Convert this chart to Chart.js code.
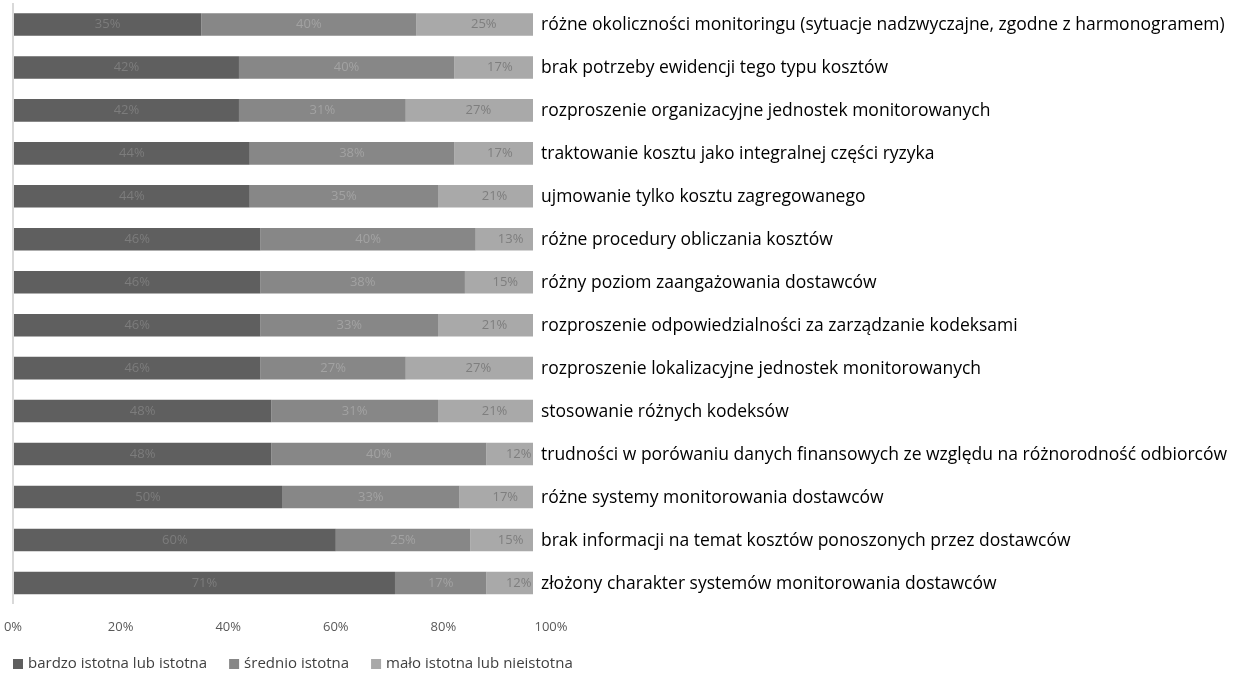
<!DOCTYPE html>
<html lang="pl">
<head>
<meta charset="utf-8">
<title>Bariery monitorowania kosztów</title>
<script src="https://cdn.jsdelivr.net/npm/chart.js@4.4.0/dist/chart.umd.min.js"></script>
<style>
    html, body { margin: 0; padding: 0; background: #fff; }
    #wrap { position: relative; width: 1238px; height: 673px; }
</style>
</head>
<body>
<div id="wrap"><canvas id="barrierChart"></canvas></div>
<script>
// kategorie (od góry do dołu)
const categories = [
    'różne okoliczności monitoringu (sytuacje nadzwyczajne, zgodne z harmonogramem)',
    'brak potrzeby ewidencji tego typu kosztów',
    'rozproszenie organizacyjne jednostek monitorowanych',
    'traktowanie kosztu jako integralnej części ryzyka',
    'ujmowanie tylko kosztu zagregowanego',
    'różne procedury obliczania kosztów',
    'różny poziom zaangażowania dostawców',
    'rozproszenie odpowiedzialności za zarządzanie kodeksami',
    'rozproszenie lokalizacyjne jednostek monitorowanych',
    'stosowanie różnych kodeksów',
    'trudności w porówaniu danych finansowych ze względu na różnorodność odbiorców',
    'różne systemy monitorowania dostawców',
    'brak informacji na temat kosztów ponoszonych przez dostawców',
    'złożony charakter systemów monitorowania dostawców'
];

// wartości w %
const bardzoIstotna = [35, 42, 42, 44, 44, 46, 46, 46, 46, 48, 48, 50, 60, 71];
const srednioIstotna = [40, 40, 31, 38, 35, 40, 38, 33, 27, 31, 40, 33, 25, 17];
const maloIstotna = [25, 17, 27, 17, 21, 13, 15, 21, 27, 21, 12, 17, 15, 12];

const seriesNames = ['bardzo istotna lub istotna', 'średnio istotna', 'mało istotna lub nieistotna'];
const xTicks = [0, 20, 40, 60, 80, 100];

Chart.defaults.font.family = "'Open Sans', sans-serif";

// etykiety wartości na środku segmentów
const valueLabels = {
    id: 'valueLabels',
    afterDatasetsDraw(chart) {
        const ctx = chart.ctx;
        ctx.save();
        ctx.font = "13px 'Open Sans', sans-serif";
        ctx.textAlign = 'center';
        ctx.textBaseline = 'middle';
        chart.data.datasets.forEach((ds, i) => {
            const meta = chart.getDatasetMeta(i);
            ctx.fillStyle = ds.labelColor;
            meta.data.forEach((bar, j) => {
                const cx = (bar.x + bar.base) / 2;
                ctx.fillText(ds.data[j] + '%', cx, bar.y);
            });
        });
        ctx.restore();
    }
};

// nazwy kategorii po prawej stronie słupków
const categoryLabels = {
    id: 'categoryLabels',
    afterDraw(chart) {
        const ctx = chart.ctx;
        const yScale = chart.scales.y;
        const x = chart.chartArea.right - 10;
        ctx.save();
        ctx.font = "17.5px 'Open Sans', sans-serif";
        ctx.fillStyle = '#000000';
        ctx.textAlign = 'left';
        ctx.textBaseline = 'middle';
        chart.data.labels.forEach((label, i) => {
            ctx.fillText(label, x, yScale.getPixelForTick(i) + 1);
        });
        ctx.restore();
    }
};

// legenda na dole, wyrównana do lewej
const bottomLegend = {
    id: 'bottomLegend',
    afterDraw(chart) {
        const ctx = chart.ctx;
        const y = 664;
        let x = 13;
        ctx.save();
        ctx.font = "15px 'Open Sans', sans-serif";
        ctx.textBaseline = 'middle';
        ctx.textAlign = 'left';
        chart.data.datasets.forEach(ds => {
            ctx.fillStyle = ds.backgroundColor;
            ctx.fillRect(x, y - 5, 10, 10);
            ctx.fillStyle = '#404040';
            ctx.fillText(ds.label, x + 15, y);
            x += 15 + ctx.measureText(ds.label).width + 22;
        });
        ctx.restore();
    }
};

const ctx = document.getElementById('barrierChart').getContext('2d');
const barrierChart = new Chart(ctx, {
    type: 'bar',
    data: {
        labels: categories,
        datasets: [{
            label: seriesNames[0],
            data: bardzoIstotna,
            backgroundColor: '#5f5f5f',
            labelColor: '#7c7c7c'
        }, {
            label: seriesNames[1],
            data: srednioIstotna,
            backgroundColor: '#878787',
            labelColor: '#a2a2a2'
        }, {
            label: seriesNames[2],
            data: maloIstotna,
            backgroundColor: '#a9a9a9',
            labelColor: '#7e7e7e'
        }]
    },
    options: {
        indexAxis: 'y',
        responsive: true,
        maintainAspectRatio: false,
        animation: false,
        datasets: {
            bar: {
                barPercentage: 0.525,
                categoryPercentage: 1,
                borderWidth: 0,
                clip: { left: 0, top: 0, right: -18, bottom: 0 }
            }
        },
        layout: {
            padding: { left: 13, top: 3, right: 687, bottom: 23 }
        },
        plugins: {
            legend: { display: false },
            tooltip: { enabled: false }
        },
        scales: {
            x: {
                stacked: true,
                min: 0,
                max: 100,
                afterBuildTicks: function(scale) {
                    scale.ticks = xTicks.map(v => ({ value: v }));
                },
                afterFit: function(scale) {
                    scale.paddingLeft = 0;
                    scale.paddingRight = 0;
                },
                ticks: {
                    padding: 15,
                    color: '#595959',
                    font: { size: 13 },
                    callback: v => v + '%'
                },
                grid: {
                    drawTicks: false,
                    lineWidth: 2,
                    color: c => (c.tick && c.tick.value === 0) ? '#d9d9d9' : 'rgba(0,0,0,0)'
                },
                border: { display: false }
            },
            y: {
                stacked: true,
                position: 'right',
                ticks: { display: false },
                grid: { display: false, drawTicks: false },
                border: { display: false }
            }
        }
    },
    plugins: [valueLabels, categoryLabels, bottomLegend]
});
</script>
</body>
</html>
